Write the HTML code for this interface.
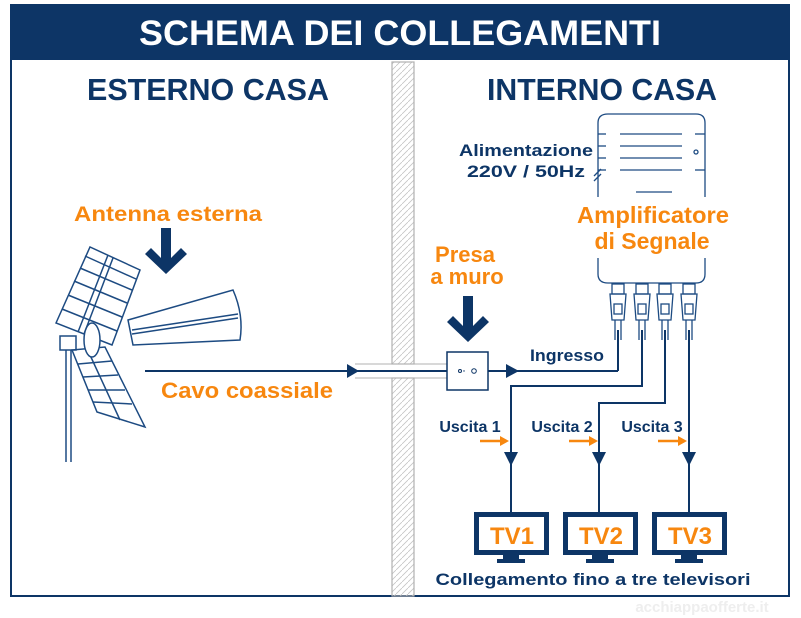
<!DOCTYPE html>
<html><head><meta charset="utf-8"><style>
html,body{margin:0;padding:0;background:#fff}
svg{display:block}
text{font-family:"Liberation Sans",sans-serif;font-weight:bold}
</style></head><body>
<svg width="801" height="618" viewBox="0 0 801 618" xmlns="http://www.w3.org/2000/svg">
<defs>
<pattern id="h" width="6" height="6" patternUnits="userSpaceOnUse"><path d="M0 6 L6 0" stroke="#c4c4c4" stroke-width="0.8"/></pattern>
</defs>
<rect x="11" y="5" width="778" height="591" fill="#fff" stroke="#0d3566" stroke-width="2"/>
<rect x="11" y="5" width="778" height="55" fill="#0d3566"/>
<text x="400" y="45" fill="#fff" font-size="35" text-anchor="middle" textLength="522" lengthAdjust="spacingAndGlyphs">SCHEMA DEI COLLEGAMENTI</text>
<text x="208" y="100" fill="#0d3566" font-size="31" text-anchor="middle" textLength="242" lengthAdjust="spacingAndGlyphs">ESTERNO CASA</text>
<text x="602" y="100" fill="#0d3566" font-size="31" text-anchor="middle" textLength="230" lengthAdjust="spacingAndGlyphs">INTERNO CASA</text>
<!-- wall -->
<rect x="392" y="62" width="22" height="302" fill="url(#h)" stroke="#b0b0b0" stroke-width="1.2"/>
<rect x="392" y="378" width="22" height="218" fill="url(#h)" stroke="#b0b0b0" stroke-width="1.2"/>
<line x1="355" y1="364" x2="450" y2="364" stroke="#b0b0b0" stroke-width="1"/>
<line x1="355" y1="378" x2="450" y2="378" stroke="#b0b0b0" stroke-width="1"/>
<!-- antenna -->
<g stroke="#1d4b82" stroke-width="1.5" fill="none">
<line x1="66" y1="340" x2="66" y2="462"/><line x1="71" y1="340" x2="71" y2="462"/>
<rect x="60" y="336" width="16" height="14" fill="#fff"/>
<path d="M56 323 L90 247 L140 270 L112 345 Z"/>
<line x1="62" y1="309" x2="117" y2="331"/><line x1="68" y1="295" x2="122" y2="317"/><line x1="74" y1="281" x2="127" y2="303"/><line x1="80" y1="268" x2="132" y2="290"/><line x1="85" y1="256" x2="136" y2="279"/>
<line x1="108" y1="255" x2="78" y2="332"/><line x1="113" y1="258" x2="84" y2="334"/>
<path d="M72 350 L97 412 L145 427 L105 347 Z"/>
<line x1="78" y1="364" x2="112" y2="361"/><line x1="83" y1="377" x2="118" y2="375"/><line x1="88" y1="390" x2="125" y2="390"/><line x1="93" y1="402" x2="132" y2="404"/>
<line x1="90" y1="355" x2="120" y2="420"/>
<path d="M128 320 L233 290 Q244 315 240 340 L133 345 Z" fill="#fff"/>
<line x1="132" y1="330" x2="238" y2="314"/><line x1="132" y1="334" x2="238" y2="318"/>
<ellipse cx="92" cy="340" rx="8" ry="17" fill="#fff"/>
</g>
<g fill="#0d3566">
<path d="M161 228 h10 v30 l10 -10 l6 6 l-21 20 l-21 -20 l6 -6 l10 10 Z"/>
<path d="M463 296 h10 v30 l10 -10 l6 6 l-21 20 l-21 -20 l6 -6 l10 10 Z"/>
</g>
<text x="168" y="221" fill="#f7870f" font-size="21" text-anchor="middle" textLength="188" lengthAdjust="spacingAndGlyphs">Antenna esterna</text>
<text x="247" y="398" fill="#f7870f" font-size="22" text-anchor="middle" textLength="172" lengthAdjust="spacingAndGlyphs">Cavo coassiale</text>
<text x="465" y="262" fill="#f7870f" font-size="22" text-anchor="middle">Presa</text>
<text x="467" y="284" fill="#f7870f" font-size="22" text-anchor="middle">a muro</text>
<text x="653" y="223" fill="#f7870f" font-size="23" text-anchor="middle" textLength="152" lengthAdjust="spacingAndGlyphs">Amplificatore</text>
<text x="652" y="249" fill="#f7870f" font-size="23" text-anchor="middle">di Segnale</text>
<text x="526" y="156" fill="#0d3566" font-size="17" text-anchor="middle" textLength="134" lengthAdjust="spacingAndGlyphs">Alimentazione</text>
<text x="526" y="177" fill="#0d3566" font-size="17" text-anchor="middle" textLength="118" lengthAdjust="spacingAndGlyphs">220V / 50Hz</text>
<g stroke="#0d3566" stroke-width="2" fill="none">
<line x1="145" y1="371" x2="350" y2="371"/>
<line x1="355" y1="371" x2="447" y2="371"/>
<line x1="488" y1="371" x2="618" y2="371"/><line x1="618" y1="371" x2="618" y2="330"/>
<polyline points="642,330 642,386 511,386 511,512"/>
<polyline points="665,330 665,403 599,403 599,512"/>
<polyline points="689,330 689,512"/>
</g>
<g fill="#0d3566">
<path d="M347 364 L359 371 L347 378 Z"/>
<path d="M506 364 L519 371 L506 378 Z"/>
<path d="M504 452 L518 452 L511 466 Z"/>
<path d="M592 452 L606 452 L599 466 Z"/>
<path d="M682 452 L696 452 L689 466 Z"/>
</g>
<rect x="447" y="352" width="41" height="38" fill="#fff" stroke="#0d3566" stroke-width="1.5"/>
<circle cx="460" cy="371" r="1.5" fill="none" stroke="#0d3566"/><circle cx="464" cy="371" r="0.7" fill="#0d3566"/><circle cx="474" cy="371" r="2.3" fill="none" stroke="#0d3566"/>
<text x="567" y="361" fill="#0d3566" font-size="17" text-anchor="middle" textLength="74" lengthAdjust="spacingAndGlyphs">Ingresso</text>
<g stroke="#1d4b82" stroke-width="1.3" fill="none">
<path d="M608 114 H696 Q705 114 705 123 V197 M598 197 V123 Q598 114 608 114"/>
<path d="M598 258 V274 Q598 283 608 283 H696 Q705 283 705 274 V258"/>
<line x1="620" y1="134" x2="682" y2="134"/><line x1="620" y1="146" x2="682" y2="146"/><line x1="620" y1="158" x2="682" y2="158"/><line x1="620" y1="170" x2="682" y2="170"/>
<line x1="598" y1="134" x2="606" y2="134"/><line x1="598" y1="146" x2="606" y2="146"/><line x1="598" y1="158" x2="606" y2="158"/><line x1="598" y1="170" x2="606" y2="170"/>
<line x1="695" y1="134" x2="705" y2="134"/><line x1="695" y1="170" x2="705" y2="170"/>
<line x1="636" y1="192" x2="672" y2="192"/>
<circle cx="696" cy="152" r="2"/>
<line x1="594" y1="176" x2="601" y2="169"/><line x1="594" y1="181" x2="601" y2="174"/>
<g id="c"><rect x="612" y="284" width="12" height="10"/><path d="M610 294 h16 l-2 26 h-12 Z"/><rect x="614" y="304" width="8" height="10"/><line x1="615" y1="320" x2="615" y2="340"/><line x1="621" y1="320" x2="621" y2="340"/></g>
<use href="#c" x="24"/><use href="#c" x="47"/><use href="#c" x="71"/>
</g>
<text x="470" y="432" fill="#0d3566" font-size="16" text-anchor="middle">Uscita 1</text>
<text x="562" y="432" fill="#0d3566" font-size="16" text-anchor="middle">Uscita 2</text>
<text x="652" y="432" fill="#0d3566" font-size="16" text-anchor="middle">Uscita 3</text>
<g stroke="#f7870f" stroke-width="2.5"><line x1="480" y1="441" x2="503" y2="441"/><line x1="569" y1="441" x2="592" y2="441"/><line x1="658" y1="441" x2="681" y2="441"/></g>
<g fill="#f7870f"><path d="M500 436 L509 441 L500 446Z"/><path d="M589 436 L598 441 L589 446Z"/><path d="M678 436 L687 441 L678 446Z"/></g>
<g fill="#fff" stroke="#0d3566" stroke-width="5">
<rect x="476.5" y="514.5" width="70" height="38"/><rect x="565.5" y="514.5" width="70" height="38"/><rect x="654.5" y="514.5" width="70" height="38"/>
</g>
<g fill="#0d3566"><rect x="503" y="555" width="16" height="4"/><rect x="497" y="559" width="28" height="4"/><rect x="592" y="555" width="16" height="4"/><rect x="586" y="559" width="28" height="4"/><rect x="681" y="555" width="16" height="4"/><rect x="675" y="559" width="28" height="4"/></g>
<text x="512" y="544" fill="#f7870f" font-size="24" text-anchor="middle">TV1</text>
<text x="601" y="544" fill="#f7870f" font-size="24" text-anchor="middle">TV2</text>
<text x="690" y="544" fill="#f7870f" font-size="24" text-anchor="middle">TV3</text>
<text x="593" y="585" fill="#0d3566" font-size="17" text-anchor="middle" textLength="315" lengthAdjust="spacingAndGlyphs">Collegamento fino a tre televisori</text>
<text x="702" y="612" fill="#eee" font-size="15" text-anchor="middle">acchiappaofferte.it</text>
</svg>
</body></html>
